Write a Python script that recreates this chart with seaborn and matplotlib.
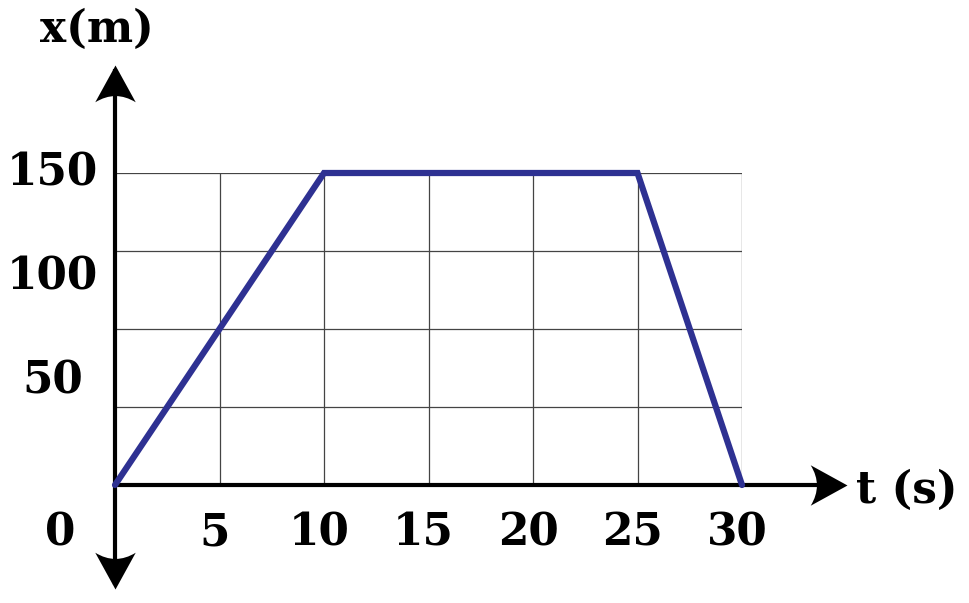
import numpy as np
import pandas as pd
import matplotlib
matplotlib.use("Agg")
import matplotlib.pyplot as plt
import seaborn as sns
from matplotlib.path import Path
from matplotlib.markers import MarkerStyle
from matplotlib.transforms import offset_copy

# ---- data ----
t_values = [0, 10, 25, 30]
x_values = [0, 150, 150, 0]
x_tick_values = [5, 10, 15, 20, 25, 30]
x_tick_labels = ["5", "10", "15", "20", "25", "30"]
y_tick_values = [50, 100, 150]
y_tick_labels = ["50", "100", "150"]
x_grid = [0, 5, 10, 15, 20, 25, 30]
y_grid = [0, 37.5, 75, 112.5, 150]

sns.set_style("white")
plt.rcParams["font.family"] = ["DejaVu Serif"]
plt.rcParams["text.color"] = "black"

W, H = 970, 603
fig = plt.figure(figsize=(W / 100, H / 100), dpi=100)
left, right, bottom, top = 115, 742, 485, 173
ax = fig.add_axes([left / W, (H - bottom) / H, (right - left) / W, (bottom - top) / H])
ax.set_xlim(0, 30)
ax.set_ylim(0, 150)
for s in ax.spines.values():
    s.set_visible(False)
ax.set_xticks([])
ax.set_yticks([])
ax.patch.set_alpha(0)

# grid
for gx in x_grid[1:]:
    ax.axvline(gx, color="#444444", lw=0.9, zorder=1)
for gy in y_grid:
    ax.axhline(gy, color="#444444" if gy > 0 else "#bbbbbb", lw=0.9, zorder=1)

# axes lines
ax.plot([0, 34.5], [0, 0], color="black", lw=3.0, solid_capstyle="butt", clip_on=False, zorder=3)
ax.plot([0, 0], [-48, 200], color="black", lw=3.0, solid_capstyle="butt", clip_on=False, zorder=3)

# arrowheads (concave back)
base = np.array([[0, 0], [-1, 0.55], [-0.66, 0.0], [-1, -0.55]])
def head(angle):
    r = np.deg2rad(angle)
    R = np.array([[np.cos(r), -np.sin(r)], [np.sin(r), np.cos(r)]])
    v = base @ R.T
    verts = [v[0], v[1], v[2], v[3], v[0]]
    codes = [Path.MOVETO, Path.LINETO, Path.CURVE3, Path.CURVE3, Path.CLOSEPOLY]
    return MarkerStyle(Path(verts, codes))

ms = 53
ax.plot([35.0], [0], marker=head(0), ms=ms, color="black", mec="none", clip_on=False, zorder=4)
ax.plot([0], [202], marker=head(90), ms=ms, color="black", mec="none", clip_on=False, zorder=4)
ax.plot([0], [-50], marker=head(-90), ms=ms, color="black", mec="none", clip_on=False, zorder=4)

# data line
df = pd.DataFrame({"t": t_values, "x": x_values})
sns.lineplot(data=df, x="t", y="x", ax=ax, color="#2e3192", lw=4.5, zorder=5,
             clip_on=False, solid_joinstyle="miter")

fs = 31.5
tkw = dict(fontsize=fs, fontweight="bold", ha="center", va="center", clip_on=False, color="black")
tr = offset_copy(ax.transData, fig=fig, x=-5, y=0, units="dots")
for v, lab in zip(x_tick_values, x_tick_labels):
    ax.text(v, -23, lab, transform=tr, **tkw)
ax.text(-2.63, -23, "0", **tkw)
for v, lab in zip(y_tick_values, y_tick_labels):
    ax.text(-3.0, v, lab, **tkw)
ax.text(-0.86, 219, "x(m)", **tkw)
ax.text(37.9, -2.4, "t (s)", **tkw)

fig.savefig("out.png", dpi=100)
